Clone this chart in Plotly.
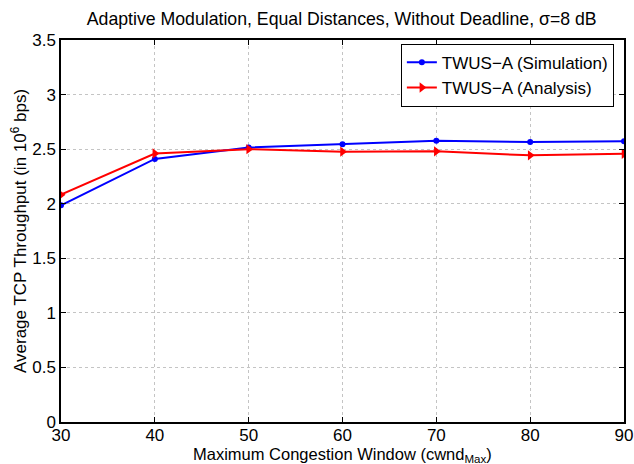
import plotly.graph_objects as go

x_vals = [30, 40, 50, 60, 70, 80, 90]
sim_vals = [1.985, 2.41, 2.515, 2.545, 2.578, 2.565, 2.572]
ana_vals = [2.083, 2.46, 2.5, 2.477, 2.48, 2.443, 2.457]

FONT = "Liberation Sans, Arial, Helvetica, sans-serif"

fig = go.Figure()
fig.add_trace(go.Scatter(
    x=x_vals, y=sim_vals, mode="lines+markers", name="TWUS\u2212A (Simulation)",
    line=dict(color="#0000ff", width=2), marker=dict(symbol="circle", size=6, color="#0000ff")))
fig.add_trace(go.Scatter(
    x=x_vals, y=ana_vals, mode="lines+markers", name="TWUS\u2212A (Analysis)",
    line=dict(color="#ff0000", width=2), marker=dict(symbol="triangle-right", size=9, color="#ff0000")))

axis_common = dict(
    showline=True, linecolor="black", linewidth=1.5, mirror="ticks",
    ticks="inside", ticklen=5, tickcolor="black",
    showgrid=True, gridcolor="#c4c4c4", griddash="dot", gridwidth=1,
    zeroline=False, automargin=False,
    tickfont=dict(size=17, color="black", family=FONT),
)

fig.update_layout(
    width=634, height=464,
    margin=dict(l=61, r=10, t=40, b=42),
    paper_bgcolor="white", plot_bgcolor="white",
    font=dict(family=FONT, color="black"),
    title=dict(text="Adaptive Modulation, Equal Distances, Without Deadline, \u03c3=8 dB",
               x=0.539, xanchor="center", y=0.959, yanchor="middle",
               font=dict(size=17.7, family=FONT, color="black")),
    xaxis=dict(range=[30, 90], tickvals=x_vals, ticklabelstandoff=-3, **axis_common),
    yaxis=dict(range=[0, 3.5], dtick=0.5, tickformat="~g", **axis_common),
    legend=dict(x=0.982, y=0.99, xanchor="right", yanchor="top",
                bgcolor="white", bordercolor="black", borderwidth=1,
                font=dict(size=17, family=FONT), tracegroupgap=0,
                itemwidth=30),
    showlegend=True,
    annotations=[
        dict(text="Maximum Congestion Window (cwnd<sub>Max</sub>)",
             xref="paper", yref="paper", x=0.5, y=-0.086,
             xanchor="center", yanchor="middle", showarrow=False,
             font=dict(size=16.5, family=FONT, color="black")),
        dict(text="Average TCP Throughput (in 10<sup>6</sup> bps)",
             xref="paper", yref="paper", x=-0.0746, y=0.5, textangle=-90,
             xanchor="center", yanchor="middle", showarrow=False,
             font=dict(size=17, family=FONT, color="black")),
    ],
)

fig.write_html("out.html",
               config={"displayModeBar": False},
               post_script="document.body.style.margin='0';document.body.style.overflow='hidden';")
